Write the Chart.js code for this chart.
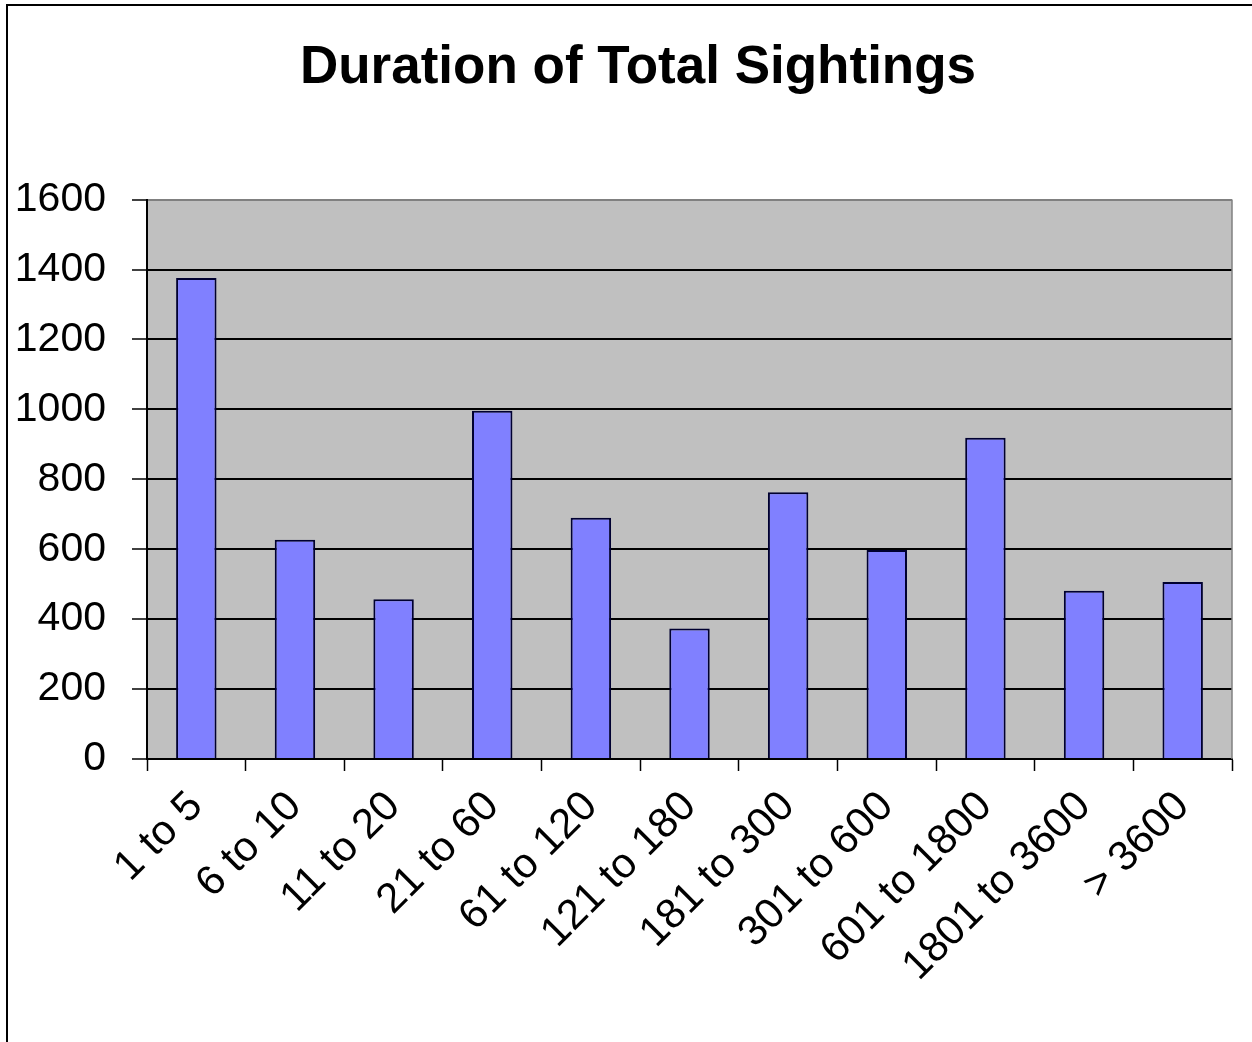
<!DOCTYPE html>
<html>
<head>
<meta charset="utf-8">
<script src="https://cdn.jsdelivr.net/npm/chart.js@4/dist/chart.umd.min.js"></script>
<style>
  html, body { margin: 0; padding: 0; background: #ffffff; }
  #wrap { width: 1252px; height: 1042px; }
</style>
</head>
<body>
<div id="wrap"><canvas id="c" width="1252" height="1042"></canvas></div>
<script>
// Duration buckets (seconds) and number of sightings in each
const categories = ['1 to 5', '6 to 10', '11 to 20', '21 to 60', '61 to 120', '121 to 180',
                    '181 to 300', '301 to 600', '601 to 1800', '1801 to 3600', '> 3600'];
const sightings = [1376, 627, 457, 996, 690, 373, 763, 598, 919, 481, 506];
const yTicks = [0, 200, 400, 600, 800, 1000, 1200, 1400, 1600];

const FONT = '"Liberation Sans", Arial, Helvetica, sans-serif';

// Gray plot background, outer frame and the plot's right edge;
// the title is centred on the page rather than on the padded layout box
const framePlugin = {
  id: 'frame',
  afterLayout(chart) {
    if (chart.titleBlock) chart.titleBlock.left += 44;
  },
  beforeDraw(chart) {
    const { ctx, chartArea: a } = chart;
    ctx.save();
    ctx.fillStyle = '#ffffff';
    ctx.fillRect(0, 0, chart.width, chart.height);
    ctx.fillStyle = '#c0c0c0';
    ctx.fillRect(a.left, a.top, a.right - a.left, a.bottom - a.top);
    ctx.restore();
  },
  afterDraw(chart) {
    const { ctx, chartArea: a } = chart;
    ctx.save();
    ctx.strokeStyle = '#808080';
    ctx.lineWidth = 1.5;
    ctx.beginPath();
    ctx.moveTo(a.right, a.top);
    ctx.lineTo(a.right, a.bottom);
    ctx.stroke();
    ctx.strokeStyle = '#000000';
    ctx.lineWidth = 2;
    ctx.beginPath();
    ctx.moveTo(chart.width, 5);
    ctx.lineTo(7, 5);
    ctx.lineTo(7, chart.height);
    ctx.stroke();
    ctx.restore();
  }
};

new Chart(document.getElementById('c'), {
  type: 'bar',
  data: {
    labels: categories,
    datasets: [{
      data: sightings,
      backgroundColor: '#8080ff',
      borderColor: '#000030',
      borderWidth: 2,
      categoryPercentage: 1,
      barPercentage: 0.41
    }]
  },
  options: {
    responsive: false,
    animation: false,
    devicePixelRatio: 1,
    layout: { padding: { left: 0, right: 20, top: 0, bottom: 0 } },
    plugins: {
      legend: { display: false },
      tooltip: { enabled: false },
      title: {
        display: true,
        text: 'Duration of Total Sightings',
        color: '#000000',
        font: { family: FONT, size: 53, weight: 'bold' },
        padding: { top: 37, bottom: 99 }
      }
    },
    scales: {
      x: {
        offset: true,
        grid: {
          offset: true,
          drawOnChartArea: false,
          drawTicks: true,
          tickLength: 12,
          tickColor: '#000000',
          tickWidth: 1.5
        },
        border: { display: true, color: '#000000', width: 2 },
        ticks: {
          color: '#000000',
          font: { family: FONT, size: 42 },
          minRotation: 45,
          maxRotation: 45,
          autoSkip: false,
          padding: 11
        },
        afterFit(scale) { scale.height = 283; }
      },
      y: {
        min: 0,
        max: 1600,
        afterBuildTicks(scale) { scale.ticks = yTicks.map(v => ({ value: v })); },
        grid: {
          color: ctx => (ctx.tick && ctx.tick.value === 1600 ? '#808080' : '#000000'),
          lineWidth: 2,
          drawTicks: true,
          tickLength: 15,
          tickColor: '#000000',
          tickWidth: 1.5
        },
        border: { display: true, color: '#000000', width: 2 },
        ticks: {
          color: '#000000',
          font: { family: FONT, size: 41 },
          padding: 26,
          callback: v => String(v)
        },
        afterFit(scale) { scale.width = 147; }
      }
    }
  },
  plugins: [framePlugin]
});
</script>
</body>
</html>
